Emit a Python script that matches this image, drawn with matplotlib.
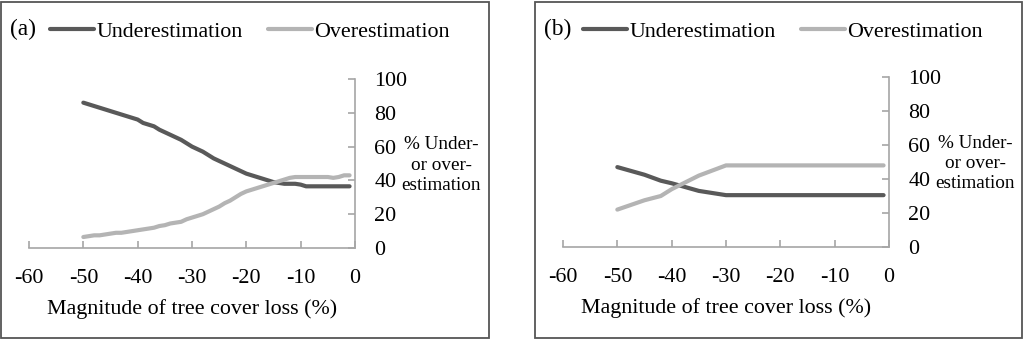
import numpy as np
import matplotlib
matplotlib.use("Agg")
import matplotlib.pyplot as plt
from matplotlib.patches import Rectangle

plt.rcParams['font.family'] = ['Liberation Serif', 'DejaVu Serif']
plt.rcParams['axes.unicode_minus'] = False

# panel (a)
xa = list(range(-50, 0))
under_a = [86, 85, 84, 83, 82, 81, 80, 79, 78, 77,
           76, 74, 73, 72, 70, 68.5, 67, 65.5, 64, 62,
           60, 58.5, 57, 55, 53, 51.5, 50, 48.5, 47, 45.5,
           44, 43, 42, 41, 40, 39, 38.5, 38, 38, 38,
           37.5, 36.5, 36.5, 36.5, 36.5, 36.5, 36.5, 36.5, 36.5, 36.5]
over_a = [6.5, 7, 7.5, 7.5, 8, 8.5, 9, 9, 9.5, 10,
          10.5, 11, 11.5, 12, 13, 13.5, 14.5, 15, 15.5, 17,
          18, 19, 20, 21.5, 23, 24.5, 26.5, 28, 30, 32,
          33.5, 34.5, 35.5, 36.5, 37.5, 38.5, 39.5, 40.5, 41.5, 42,
          42, 42, 42, 42, 42, 42, 41.5, 42, 43, 43]

# panel (b)
xb = [-50, -45, -42, -40, -35, -30, -25, -20, -15, -10, -5, -1]
under_b = [47, 42.5, 39, 37.5, 33, 30.5, 30.5, 30.5, 30.5, 30.5, 30.5, 30.5]
over_b = [22, 27.5, 30, 34, 42, 48, 48, 48, 48, 48, 48, 48]

xticks = [-60, -50, -40, -30, -20, -10, 0]
yticks = [0, 20, 40, 60, 80, 100]

dark = '#595959'
light = '#b4b4b4'
axcol = '#a6a6a6'
fs = 15.8

fig = plt.figure(figsize=(10.24, 3.39), dpi=100)

# panel frames
for x0, x1 in [(1, 489), (535, 1022)]:
    fig.patches.append(Rectangle((x0 / 1024, 1.5 / 339), (x1 - x0) / 1024, 336 / 339,
                                 transform=fig.transFigure, fill=False,
                                 edgecolor='#555555', linewidth=1.3))

panels = [
    ('(a)', [29 / 1024, 91 / 339, 326 / 1024, 169 / 339], xa, under_a, over_a, 10, 50),
    ('(b)', [563 / 1024, 92 / 339, 326 / 1024, 170 / 339], xb, under_b, over_b, 544, 583),
]

for tag, rect, x, u, o, tagx, legx in panels:
    ax = fig.add_axes(rect)
    ax.plot(x, u, color=dark, lw=3, label='Underestimation', solid_capstyle='round')
    ax.plot(x, o, color=light, lw=3, label='Overestimation', solid_capstyle='round')
    ax.set_xlim(-60, 0)
    ax.set_ylim(0, 100)
    ax.set_xticks(xticks)
    ax.set_yticks(yticks)
    for s in ['top', 'left']:
        ax.spines[s].set_visible(False)
    for s in ['bottom', 'right']:
        ax.spines[s].set_color(axcol)
        ax.spines[s].set_linewidth(1.2)
    ax.yaxis.tick_right()
    ax.tick_params(axis='both', direction='in', length=5, color=axcol, width=1.2,
                   labelsize=fs)
    ax.tick_params(axis='x', pad=15)
    ax.tick_params(axis='y', pad=14)
    ax.set_xlabel('Magnitude of tree cover loss (%)', fontsize=fs, labelpad=8)
    ax.text(1.265, 0.49, '% Under-\nor over-\nestimation', transform=ax.transAxes,
            ha='center', va='center', fontsize=13.8, linespacing=1.25)
    fig.text(tagx / 1024, 1 - 29 / 339, tag, fontsize=fs + 1, va='center', ha='left')
    ax.legend(loc='center left', bbox_to_anchor=(legx / 1024, 1 - 32 / 339),
              bbox_transform=fig.transFigure, ncol=2, frameon=False, fontsize=fs,
              handlelength=2.0, handletextpad=0.12, columnspacing=1.15,
              borderaxespad=0, borderpad=0)

fig.savefig('out.png', dpi=100)
